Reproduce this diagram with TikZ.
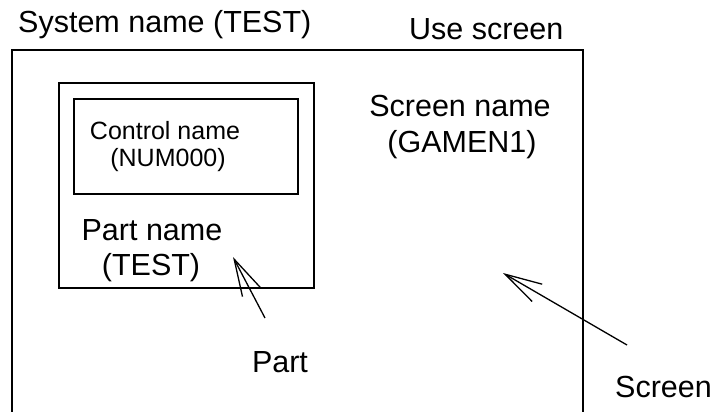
\documentclass[tikz,border=0pt]{standalone}
\usepackage{fontspec}
\setmainfont{Liberation Sans}
\usetikzlibrary{arrows.meta}
\tikzset{
  frame/.style={line width=1.3pt},
  box/.style={draw, line width=1.3pt, inner sep=0pt},
  big/.style={anchor=base, inner sep=0pt, font=\fontsize{30.5}{35}\selectfont},
  small/.style={anchor=base, inner sep=0pt, font=\fontsize{25}{29}\selectfont},
  pointer/.style={line width=1.3pt, -{Straight Barb[length=37pt,width=20pt,line width=1.3pt]}}
}

\begin{document}
\begin{tikzpicture}[x=1pt,y=-1pt]
\useasboundingbox (0,0) rectangle (715,412);
% screen frame, open at the bottom
\draw [frame] (12,412) -- (12,50) -- (583,50) -- (583,412);
\node [big, anchor=base west] (sysname) at (18,33) {System name (TEST)};
\node [big, anchor=base west] (usescr) at (409,40) {Use screen};
\node [big] (scrname) at (460,117) {Screen name};
\node [big] (scrid) at (462,152) {(GAMEN1)};
% part and control
\node [box, minimum width=255pt, minimum height=205pt] (partbox) at (186.5,185.5) {};
\node [box, minimum width=224pt, minimum height=95pt] (ctrlbox) at (186,146.5) {};
\node [small] (ctrlname) at (165,139) {Control name};
\node [small] (ctrlid) at (168,166) {(NUM000)};
\node [big] (partname) at (152,240) {Part name};
\node [big] (partid) at (151,275) {(TEST)};
% pointers
\coordinate (parttip) at (233,257);
\coordinate (parttail) at (265,318);
\coordinate (scrtip) at (503,273);
\coordinate (scrtail) at (627,345);
\draw [pointer] (parttail) -- (parttip);
\draw [pointer] (scrtail) -- (scrtip);
\node [big] (partlbl) at (280,372) {Part};
\node [big, anchor=base west] (scrlbl) at (615,397) {Screen};
\end{tikzpicture}
\end{document}
